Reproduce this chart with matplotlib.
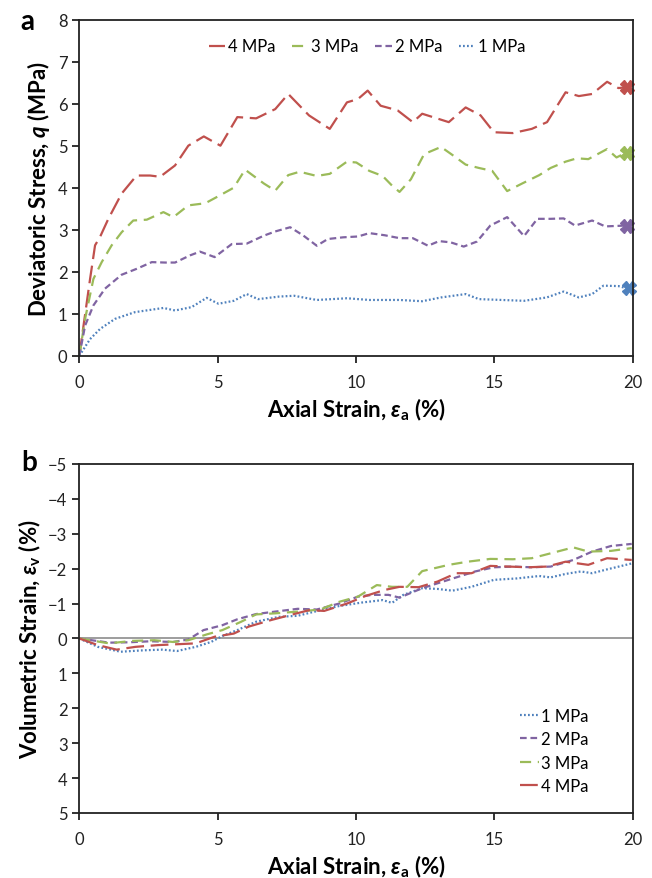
import numpy as np
import matplotlib.pyplot as plt

plt.rcParams['font.family'] = ['Lato', 'DejaVu Sans']
plt.rcParams['mathtext.fontset'] = 'custom'
plt.rcParams['mathtext.it'] = 'Lato:italic:bold'
plt.rcParams['mathtext.rm'] = 'Lato:bold'

# ---- panel a: deviatoric stress vs axial strain ----
ea_4 = [0, 0.39, 0.57, 0.75, 1.05, 1.53, 2.07, 2.56, 2.92, 3.46, 3.94, 4.5, 5.1, 5.71, 6.39,
        7.08, 7.55, 8.3, 9.05, 9.67, 10.07, 10.42, 10.89, 11.5, 12.05, 12.39, 13.35, 13.96,
        14.5, 14.98, 15.66, 16.35, 16.9, 17.57, 18.05, 18.53, 19.07, 19.48, 19.75]
q_4 = [0, 1.83, 2.63, 2.83, 3.26, 3.86, 4.29, 4.29, 4.26, 4.53, 5.0, 5.22, 5.0, 5.68, 5.65,
       5.87, 6.23, 5.72, 5.4, 6.03, 6.11, 6.31, 5.95, 5.84, 5.56, 5.76, 5.56, 5.91,
       5.72, 5.32, 5.30, 5.4, 5.56, 6.27, 6.18, 6.23, 6.52, 6.37, 6.39]

ea_3 = [0, 0.21, 0.51, 0.81, 1.17, 1.53, 1.95, 2.44, 3.04, 3.4, 3.94, 4.55, 5.03, 5.58, 5.99,
        6.67, 7.08, 7.55, 7.96, 8.58, 9.05, 9.67, 10.01, 10.48, 10.96, 11.3, 11.57, 11.98,
        12.46, 13.07, 13.48, 13.96, 14.44, 14.92, 15.46, 16.0, 16.62, 17.03, 17.57, 17.98,
        18.39, 19.07, 19.41, 19.75]
q_3 = [0, 0.88, 1.83, 2.23, 2.63, 2.94, 3.22, 3.24, 3.42, 3.3, 3.58, 3.63, 3.8, 4.0, 4.43,
       4.1, 3.93, 4.3, 4.38, 4.28, 4.33, 4.62, 4.6, 4.4, 4.28, 4.05, 3.9, 4.2,
       4.8, 4.97, 4.78, 4.55, 4.47, 4.4, 3.92, 4.1, 4.3, 4.47, 4.62, 4.7,
       4.68, 4.92, 4.72, 4.83]

ea_2 = [0, 0.21, 0.51, 0.93, 1.53, 2.07, 2.62, 3.1, 3.46, 4.0, 4.36, 4.89, 5.51, 6.05, 6.67,
        7.08, 7.62, 8.1, 8.58, 8.98, 9.53, 10.07, 10.48, 11.03, 11.57, 12.05, 12.6, 13.0,
        13.42, 13.89, 14.37, 14.85, 15.46, 16.07, 16.55, 17.03, 17.5, 17.91, 18.53, 19.0, 19.75]
q_2 = [0, 0.72, 1.2, 1.6, 1.93, 2.07, 2.23, 2.22, 2.22, 2.39, 2.48, 2.35, 2.66, 2.67, 2.86,
       2.96, 3.06, 2.86, 2.62, 2.78, 2.82, 2.84, 2.92, 2.87, 2.8, 2.8, 2.62, 2.73,
       2.7, 2.6, 2.72, 3.1, 3.3, 2.85, 3.26, 3.26, 3.27, 3.1, 3.22, 3.08, 3.1]

ea_1 = [0, 0.39, 0.75, 1.29, 2.01, 3.04, 3.46, 4.06, 4.6, 5.03, 5.58, 6.05, 6.46, 7.21,
        7.76, 8.58, 9.67, 10.48, 11.57, 12.39, 13.07, 13.96, 14.44, 15.26, 16.07, 16.89,
        17.5, 18.05, 18.53, 18.94, 19.48, 19.82]
q_1 = [0, 0.4, 0.64, 0.88, 1.04, 1.14, 1.08, 1.16, 1.38, 1.24, 1.31, 1.47, 1.35, 1.41,
       1.43, 1.33, 1.37, 1.33, 1.33, 1.3, 1.39, 1.47, 1.35, 1.33, 1.31, 1.39,
       1.53, 1.39, 1.47, 1.67, 1.66, 1.6]

# failure points (X markers)
fail_ea = [19.8, 19.8, 19.8, 19.85]
fail_q = [6.39, 4.83, 3.08, 1.62]

# ---- panel b: volumetric strain vs axial strain ----
eb_1 = [0, 0.67, 1.49, 2.3, 3.0, 3.53, 4.21, 4.76, 5.17, 5.71, 6.39, 7.21, 7.89, 8.71, 9.39,
        10.21, 10.96, 11.3, 11.71, 12.39, 12.94, 13.48, 14.17, 14.98, 15.8, 16.62, 17.03,
        17.57, 18.12, 18.53, 19.07, 19.96]
ev_1 = [0, 0.24, 0.38, 0.34, 0.32, 0.36, 0.24, 0.1, -0.07, -0.24, -0.48, -0.62, -0.65, -0.81, -0.93,
        -1.03, -1.1, -1.02, -1.25, -1.44, -1.42, -1.37, -1.48, -1.68, -1.72, -1.79, -1.75,
        -1.85, -1.92, -1.87, -1.98, -2.15]

eb_2 = [0, 1.08, 1.76, 2.58, 3.39, 3.94, 4.49, 5.17, 5.71, 6.39, 7.08, 7.89, 8.58, 9.39, 10.07,
        10.62, 11.17, 11.57, 12.39, 12.94, 13.62, 14.3, 14.98, 15.66, 16.35, 17.03, 17.85,
        18.53, 19.21, 19.96]
ev_2 = [0, 0.12, 0.11, 0.08, 0.1, 0.03, -0.24, -0.38, -0.55, -0.7, -0.77, -0.85, -0.83, -1.0, -1.2,
        -1.25, -1.25, -1.17, -1.44, -1.58, -1.75, -1.92, -2.04, -2.06, -2.04, -2.06, -2.25,
        -2.49, -2.65, -2.71]

eb_3 = [0, 1.08, 1.9, 2.71, 3.39, 3.94, 4.62, 5.17, 5.85, 6.39, 7.08, 7.89, 8.71, 9.39, 10.07,
        10.75, 11.3, 11.85, 12.39, 13.35, 14.03, 14.85, 15.66, 16.35, 17.03, 17.85, 18.39,
        19.21, 19.96]
ev_3 = [0, 0.14, 0.07, 0.05, 0.1, 0.05, -0.12, -0.24, -0.48, -0.69, -0.72, -0.77, -0.83, -1.05, -1.2,
        -1.53, -1.48, -1.48, -1.93, -2.11, -2.2, -2.28, -2.27, -2.3, -2.44, -2.61, -2.49,
        -2.51, -2.59]

eb_4 = [0, 0.67, 1.35, 2.03, 2.85, 3.67, 4.21, 4.89, 5.58, 6.12, 6.94, 7.76, 8.3, 8.85, 9.67,
        10.35, 11.03, 11.57, 12.26, 12.94, 13.62, 14.17, 14.85, 15.53, 16.21, 16.89, 17.57,
        18.39, 19.07, 19.96]
ev_4 = [0, 0.19, 0.32, 0.24, 0.19, 0.16, 0.14, -0.05, -0.14, -0.34, -0.53, -0.7, -0.81, -0.79, -1.0,
        -1.22, -1.39, -1.48, -1.47, -1.63, -1.87, -1.87, -2.08, -2.06, -2.04, -2.06, -2.2,
        -2.11, -2.3, -2.25]

red = '#C0504D'
green = '#9BBB59'
purple = '#8064A2'
blue = '#4F81BD'

ls_4 = (0, (8, 3))
ls_3 = (0, (5, 3))
ls_2 = (0, (3, 1.7))
ls_1 = (0, (0.8, 1.0))
lw = 1.6

fig = plt.figure(figsize=(6.52, 8.79), dpi=100)
ax1 = fig.add_axes([0.1216, 0.594, 0.849, 0.3826])
ax2 = fig.add_axes([0.1216, 0.074, 0.849, 0.397])

ax1.plot(ea_4, q_4, color=red, lw=lw, ls=ls_4, label='4 MPa')
ax1.plot(ea_3, q_3, color=green, lw=lw, ls=ls_3, label='3 MPa')
ax1.plot(ea_2, q_2, color=purple, lw=lw, ls=ls_2, label='2 MPa')
ax1.plot(ea_1, q_1, color=blue, lw=lw, ls=ls_1, label='1 MPa')
for x, y, c in zip(fail_ea, fail_q, [red, green, purple, blue]):
    ax1.plot(x, y, marker='X', ms=10, color=c, mec=c, ls='none', clip_on=False)

ax1.set_xlim(0, 20)
ax1.set_ylim(0, 8)
ax1.set_xticks([0, 5, 10, 15, 20])
ax1.set_yticks(range(0, 9))
ax1.set_xlabel(r'Axial Strain, $\varepsilon_{\mathrm{a}}$ (%)', fontsize=16, fontweight='bold')
ax1.set_ylabel(r'Deviatoric Stress, $q$ (MPa)', fontsize=16, fontweight='bold')
ax1.legend(loc='center', ncol=4, frameon=False, fontsize=12, handlelength=1.0,
           handletextpad=0.15, columnspacing=1.0, bbox_to_anchor=(0.52, 0.92))

ax2.axhline(0, color='#8c8c8c', lw=1.2, zorder=1)
ax2.plot(eb_1, ev_1, color=blue, lw=lw, ls=ls_1, label='1 MPa')
ax2.plot(eb_2, ev_2, color=purple, lw=lw, ls=ls_2, label='2 MPa')
ax2.plot(eb_3, ev_3, color=green, lw=lw, ls=ls_3, label='3 MPa')
ax2.plot(eb_4, ev_4, color=red, lw=lw, ls=ls_4, label='4 MPa')
ax2.set_xlim(0, 20)
ax2.set_ylim(5, -5)
ax2.set_xticks([0, 5, 10, 15, 20])
ax2.set_yticks(range(-5, 6))
ax2.set_xlabel(r'Axial Strain, $\varepsilon_{\mathrm{a}}$ (%)', fontsize=16, fontweight='bold')
ax2.set_ylabel(r'Volumetric Strain, $\varepsilon_{\mathrm{v}}$ (%)', fontsize=16, fontweight='bold')
ax2.legend(loc='lower right', frameon=False, fontsize=12, handlelength=1.1,
           handletextpad=0.15, labelspacing=0.45, borderpad=0,
           bbox_to_anchor=(0.935, 0.03))

for ax in (ax1, ax2):
    for s in ax.spines.values():
        s.set_linewidth(1.3)
        s.set_color('#222222')
    ax.tick_params(direction='out', length=5, width=1.3, labelsize=12, colors='#222222')
    ax.tick_params(axis='x', pad=8)

fig.text(0.032, 0.975, 'a', fontsize=20, fontweight='bold', va='center')
fig.text(0.032, 0.473, 'b', fontsize=20, fontweight='bold', va='center')

fig.savefig('out.png', dpi=100)
